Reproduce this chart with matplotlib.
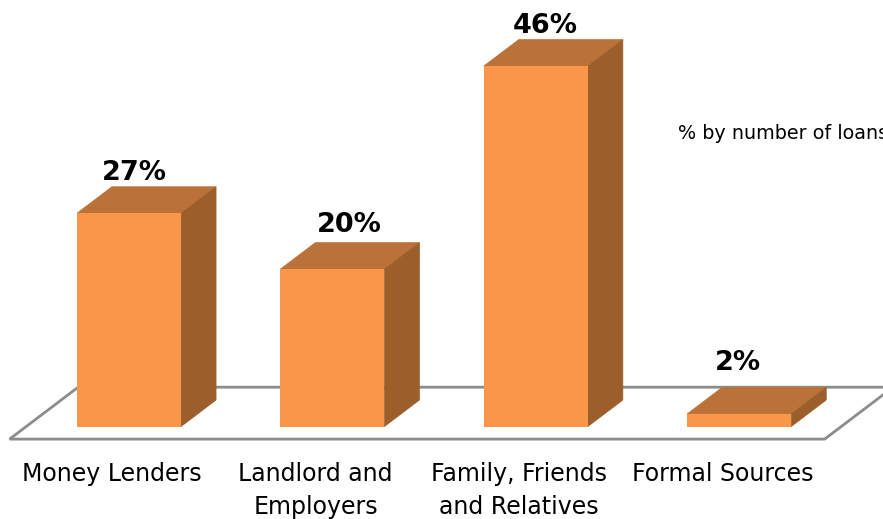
"""Pseudo-3D column chart of loan sources."""

import matplotlib
matplotlib.use('Agg')

import matplotlib.pyplot as plt
from matplotlib.patches import Polygon

# Data
categories = ['Money Lenders', 'Landlord and\nEmployers',
              'Family, Friends\nand Relatives', 'Formal Sources']
values = [27.1, 20.0, 45.8, 1.6]
value_labels = ['27%', '20%', '46%', '2%']
note = '% by number of loans'

# Style
front_color = '#F9964A'
top_color = '#BA7238'
side_color = '#9C5F2B'
floor_color = '#8C8C8C'
bar_width = 0.512
depth_x = 0.172
depth_y = 3.37
font = 'DejaVu Sans'
label_shift_x = [0.027, 0.081, 0.047, -0.007]  # labels sit unevenly over bars
label_shift_y = [0.15, 0.55, 0.05, 1.45]

fig = plt.figure(figsize=(8.83, 5.19), dpi=100)
ax = fig.add_axes([0, 0, 1, 1])
ax.set_xlim(-129 / 203.4, 754 / 203.4)
ax.set_ylim(-11.75, 54.2)
ax.axis('off')

# Floor of the chart
floor_front, floor_back = -1.6, 5.0
floor_left, floor_right = -0.587, 3.42
floor_dx = (floor_back - floor_front) / depth_y * depth_x
ax.add_patch(Polygon([(floor_left, floor_front), (floor_right, floor_front),
                      (floor_right + floor_dx, floor_back),
                      (floor_left + floor_dx, floor_back)],
                     closed=True, facecolor='white', edgecolor=floor_color,
                     linewidth=2, joinstyle='miter', zorder=1))

positions = range(len(values))

for x, value, label, name, dx, dy in zip(positions, values, value_labels,
                                         categories, label_shift_x,
                                         label_shift_y):
    left, right = x - bar_width / 2, x + bar_width / 2
    ax.add_patch(Polygon([(left, value), (right, value),
                          (right + depth_x, value + depth_y),
                          (left + depth_x, value + depth_y)],
                         facecolor=top_color, edgecolor=top_color,
                         linewidth=0.5, zorder=2))
    ax.add_patch(Polygon([(right, 0), (right + depth_x, depth_y),
                          (right + depth_x, value + depth_y), (right, value)],
                         facecolor=side_color, edgecolor=side_color,
                         linewidth=0.5, zorder=2))
    ax.text(x + dx, value + depth_y + dy, label, ha='center', va='bottom',
            fontsize=19.5, fontweight='bold', family=font, color='black',
            zorder=4)
    ax.text(x - 0.083, -4.45, name, ha='center', va='top', fontsize=17,
            family=font, color='black', linespacing=1.5, zorder=4)

ax.bar(positions, values, width=bar_width, color=front_color, zorder=3)

ax.text(2.698, 37.2, note, ha='left', va='center', fontsize=13.8,
        family=font, color='black', clip_on=True)

fig.savefig('out.png', dpi=100)
